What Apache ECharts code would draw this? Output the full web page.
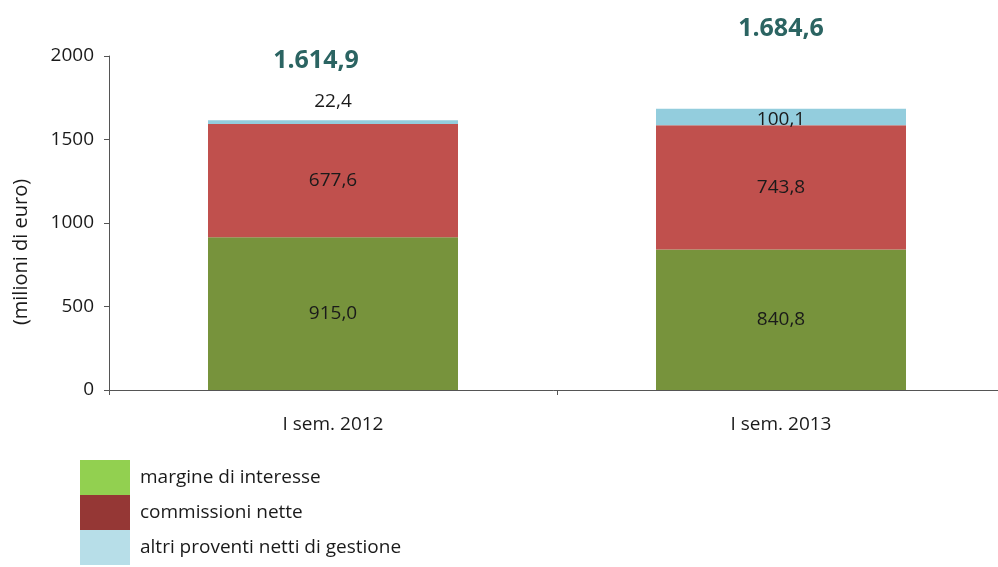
<!DOCTYPE html>
<html>
<head>
<meta charset="utf-8">
<script src="https://cdn.jsdelivr.net/npm/echarts@6/dist/echarts.min.js"></script>
<style>
  html, body { margin: 0; padding: 0; background: #ffffff; }
  #chart { width: 998px; height: 567px; }
</style>
</head>
<body>
<div id="chart"></div>
<script>
// Categories and values (milioni di euro)
const categories = ['I sem. 2012', 'I sem. 2013'];
const seriesNames = ['margine di interesse', 'commissioni nette', 'altri proventi netti di gestione'];
const margineInteresse = [915.0, 840.8];
const commissioniNette = [677.6, 743.8];
const altriProventi = [22.4, 100.1];
const totali = [1614.9, 1684.6];
const yTicks = [0, 500, 1000, 1500, 2000];

// Italian number format: 1.614,9
function fmt(v) {
  const parts = v.toFixed(1).split('.');
  const intPart = parts[0].replace(/\B(?=(\d{3})+(?!\d))/g, '.');
  return intPart + ',' + parts[1];
}

const FONT = 'Open Sans';
const TXT = '#1a1a1a';
const FS = 19;

const barColors = ['#77933C', '#C0504D', '#93CDDD'];
const legendColors = ['#92D050', '#953735', '#B7DEE8'];

const segLabel = {
  show: true,
  position: 'inside',
  color: TXT,
  fontFamily: FONT,
  fontSize: FS,
  formatter: p => fmt(p.value)
};

const chart = echarts.init(document.getElementById('chart'), null, { renderer: 'canvas' });

chart.setOption({
  animation: false,
  grid: { left: 109, width: 896, top: 56, height: 334, containLabel: false, outerBoundsMode: 'none' },
  legend: {
    orient: 'vertical',
    left: 80,
    top: 460,
    padding: 0,
    height: 110,
    itemWidth: 50,
    itemHeight: 35,
    itemGap: 0,
    icon: 'rect',
    selectedMode: false,
    textStyle: { fontFamily: FONT, fontSize: FS, color: TXT, padding: [0, 0, 0, 5] },
    data: seriesNames.map((n, i) => ({ name: n, itemStyle: { color: legendColors[i] } }))
  },
  xAxis: {
    type: 'category',
    data: categories,
    axisLine: { lineStyle: { color: '#555555', width: 1 } },
    axisTick: { show: true, length: 5, lineStyle: { color: '#555555' } },
    axisLabel: { fontFamily: FONT, fontSize: FS, color: TXT, margin: 25 }
  },
  yAxis: {
    type: 'value',
    min: yTicks[0],
    max: yTicks[yTicks.length - 1],
    interval: 500,
    name: '(milioni di euro)',
    nameLocation: 'middle',
    nameGap: 78,
    nameTextStyle: { fontFamily: FONT, fontSize: 20, color: TXT, padding: [0, 58, 0, 0] },
    axisLine: { show: true, lineStyle: { color: '#555555', width: 1 } },
    axisTick: { show: true, length: 5, lineStyle: { color: '#555555' } },
    axisLabel: { fontFamily: FONT, fontSize: FS, color: TXT, margin: 15, formatter: v => String(v) },
    splitLine: { show: false }
  },
  series: [
    {
      name: seriesNames[0], type: 'bar', stack: 'tot', barWidth: 250,
      itemStyle: { color: barColors[0] },
      label: segLabel,
      data: margineInteresse
    },
    {
      name: seriesNames[1], type: 'bar', stack: 'tot', barWidth: 250,
      itemStyle: { color: barColors[1] },
      label: segLabel,
      data: commissioniNette
    },
    {
      name: seriesNames[2], type: 'bar', stack: 'tot', barWidth: 250,
      itemStyle: { color: barColors[2] },
      label: segLabel,
      data: altriProventi.map((v, i) => i === 0
        ? { value: v, label: { position: 'top', distance: 9 } }
        : { value: v, label: { position: 'inside', offset: [0, 3] } })
    },
    {
      // bar totals, shown above each stack
      name: 'totale', type: 'scatter', symbolSize: 0, clip: false,
      silent: true,
      itemStyle: { opacity: 1 },
      label: {
        show: true, position: 'top', opacity: 1,
        fontFamily: FONT, fontSize: 25, fontWeight: 'bold', color: '#2B6462',
        formatter: p => fmt(p.value[1])
      },
      data: totali.map((v, i) => ({
        value: [categories[i], v],
        label: { offset: i === 0 ? [-17, -42] : [0, -62] }
      }))
    }
  ]
});
</script>
</body>
</html>
